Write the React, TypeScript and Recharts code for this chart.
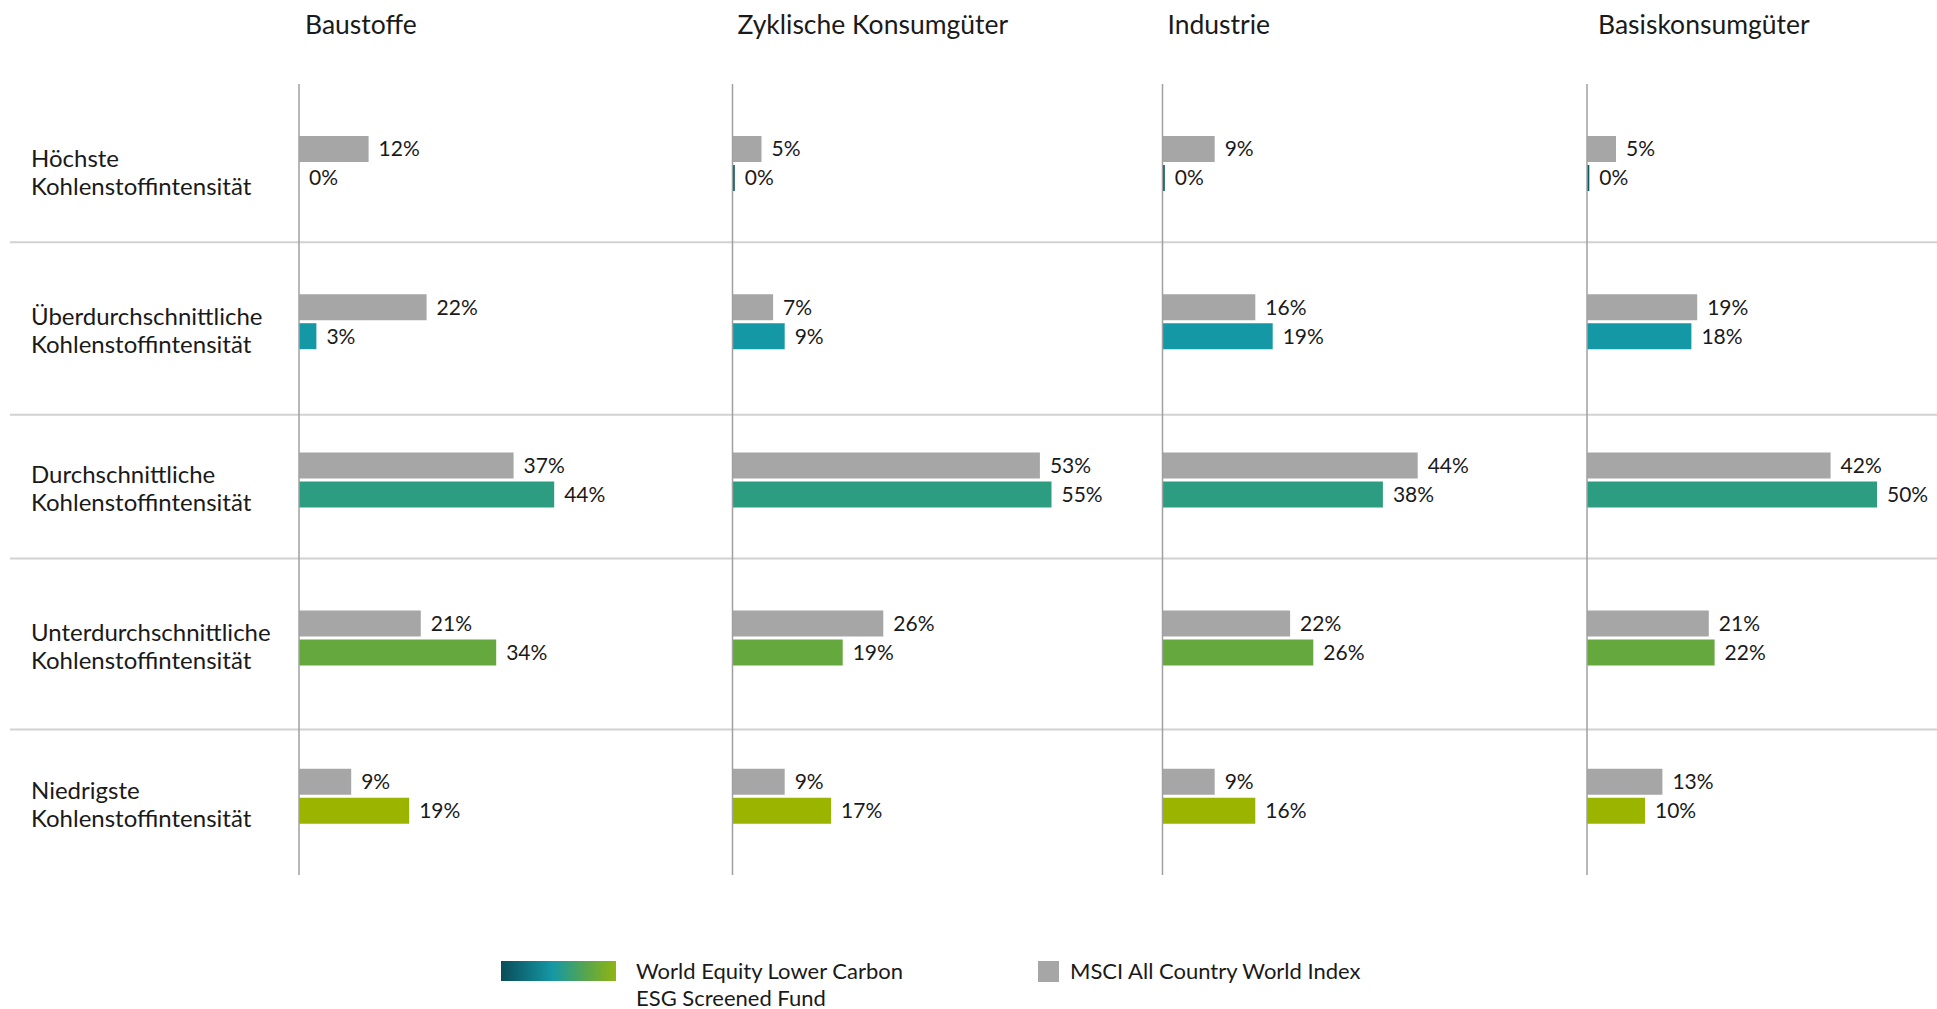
import React from 'react';
import { BarChart, Bar, XAxis, YAxis, ReferenceLine, LabelList, Cell, CartesianGrid } from 'recharts';

// ---------- data ----------
const rowLabels = [
  'Höchste Kohlenstoffintensität',
  'Überdurchschnittliche Kohlenstoffintensität',
  'Durchschnittliche Kohlenstoffintensität',
  'Unterdurchschnittliche Kohlenstoffintensität',
  'Niedrigste Kohlenstoffintensität',
];
const sectors = ['Baustoffe', 'Zyklische Konsumgüter', 'Industrie', 'Basiskonsumgüter'];

const msciBaustoffe = [12, 22, 37, 21, 9];
const msciZyklisch = [5, 7, 53, 26, 9];
const msciIndustrie = [9, 16, 44, 22, 9];
const msciBasis = [5, 19, 42, 21, 13];

const fundBaustoffe = [0.01, 3, 44, 34, 19];
const fundZyklisch = [0.4, 9, 55, 19, 17];
const fundIndustrie = [0.4, 19, 38, 26, 16];
const fundBasis = [0.4, 18, 50, 22, 10];

const legendFundLines = ['World Equity Lower Carbon', 'ESG Screened Fund'];
const legendMsci = 'MSCI All Country World Index';

const msciSeries = [msciBaustoffe, msciZyklisch, msciIndustrie, msciBasis];
const fundSeries = [fundBaustoffe, fundZyklisch, fundIndustrie, fundBasis];

const data = rowLabels.map((row, i) => {
  const o: Record<string, any> = { row };
  sectors.forEach((_, p) => {
    o[`msci${p}`] = msciSeries[p][i];
    o[`fund${p}`] = fundSeries[p][i];
  });
  return o;
});

// ---------- layout & style ----------
const W = 1937;
const H = 1009;
const PLOT_LEFT = 10;
const PLOT_TOP = 84;
const PLOT_BOTTOM = 875;
const PX_PER_PCT = 5.8;
const panelAxisX = [299, 732.5, 1162.5, 1587];
const titleDx = [6, 5, 5, 11];
const separators = [1, 2.09, 3, 4.08]; // in row units from the top
const fundColors = ['#0c5a63', '#1598a5', '#2d9d81', '#65a83d', '#9ab400'];
const MSCI_COLOR = '#a6a6a6';
const TEXT = '#1a1a1a';
const FONT = 'Lato, "Open Sans", sans-serif';
const ROW_LABEL_X = 31;

const fmt = (v: any) => `${Math.round(Number(v))}%`;

export default function App() {
  const children: any[] = [];

  sectors.forEach((_, p) => {
    const a = panelAxisX[p];
    children.push(
      <XAxis
        key={`x${p}`}
        xAxisId={`x${p}`}
        type="number"
        domain={[-(a - PLOT_LEFT) / PX_PER_PCT, (W - a) / PX_PER_PCT]}
        allowDataOverflow
        hide
      />
    );
  });

  sectors.forEach((_, p) => {
    children.push(
      <YAxis key={`y${p}`} yAxisId={`y${p}`} type="category" dataKey="row" hide />
    );
  });

  children.push(
    <CartesianGrid
      key="grid"
      xAxisId="x0"
      yAxisId="y0"
      vertical={false}
      stroke="#d2d2d2"
      strokeWidth={2}
      horizontalCoordinatesGenerator={(args: any) => {
        const top = args?.offset?.top ?? PLOT_TOP;
        const h = args?.offset?.height ?? PLOT_BOTTOM - PLOT_TOP;
        return separators.map((s) => top + (s * h) / rowLabels.length);
      }}
    />
  );

  sectors.forEach((name, p) => {
    children.push(
      <Bar
        key={`msci${p}`}
        xAxisId={`x${p}`}
        yAxisId={`y${p}`}
        dataKey={`msci${p}`}
        name={legendMsci}
        fill={MSCI_COLOR}
        isAnimationActive={false}
      >
        <LabelList dataKey={`msci${p}`} position="right" offset={10} formatter={fmt} fill={TEXT} fontSize={21} fontFamily={FONT} />
      </Bar>
    );
    children.push(
      <Bar
        key={`fund${p}`}
        xAxisId={`x${p}`}
        yAxisId={`y${p}`}
        dataKey={`fund${p}`}
        name={legendFundLines.join(' ')}
        isAnimationActive={false}
      >
        {data.map((_, i) => (
          <Cell key={i} fill={fundColors[i]} />
        ))}
        <LabelList dataKey={`fund${p}`} position="right" offset={10} formatter={fmt} fill={TEXT} fontSize={21} fontFamily={FONT} />
      </Bar>
    );
    children.push(
      <ReferenceLine
        key={`axis${p}`}
        xAxisId={`x${p}`}
        yAxisId={`y${p}`}
        x={0}
        stroke="#a0a0a0"
        strokeWidth={1.5}
        label={(lp: any) => {
          const vb = lp.viewBox || {};
          return (
            <text
              x={(vb.x ?? panelAxisX[p]) + titleDx[p]}
              y={(vb.y ?? PLOT_TOP) - 50}
              fill={TEXT}
              fontSize={26.5}
              fontFamily={FONT}
              textAnchor="start"
            >
              {name}
            </text>
          );
        }}
      />
    );
  });

  const band = (PLOT_BOTTOM - PLOT_TOP) / rowLabels.length;

  return (
    <div style={{ position: 'absolute', left: 0, top: 0, width: W, height: H, background: '#fff', fontFamily: FONT }}>
      <BarChart
        width={W}
        height={H}
        data={data}
        layout="vertical"
        margin={{ top: PLOT_TOP, right: 0, bottom: H - PLOT_BOTTOM, left: PLOT_LEFT }}
        barSize={26}
        barGap={3}
        style={{ fontFamily: FONT }}
      >
        {children}
      </BarChart>
      {/* row labels */}
      <svg width={290} height={H} style={{ position: 'absolute', left: 0, top: 0, pointerEvents: 'none' }}>
        {rowLabels.map((s, i) => {
          const k = s.lastIndexOf(' ');
          const cy = PLOT_TOP + (i + 0.5) * band;
          return (
            <text key={i} fill={TEXT} fontSize={24} fontFamily={FONT}>
              <tspan x={ROW_LABEL_X} y={cy + 3.5}>{s.slice(0, k)}</tspan>
              <tspan x={ROW_LABEL_X} y={cy + 31.5}>{s.slice(k + 1)}</tspan>
            </text>
          );
        })}
      </svg>
      {/* legend */}
      <div style={{ position: 'absolute', left: 501, top: 961, width: 115, height: 20, background: 'linear-gradient(to right, #0a4c58 0%, #1598a5 45%, #5aa64a 75%, #8fb512 100%)' }} />
      <div style={{ position: 'absolute', left: 636, top: 957, fontSize: 22, lineHeight: '27px', color: TEXT }}>
        <div>{legendFundLines[0]}</div>
        <div>{legendFundLines[1]}</div>
      </div>
      <div style={{ position: 'absolute', left: 1038, top: 961, width: 21, height: 21, background: MSCI_COLOR }} />
      <div style={{ position: 'absolute', left: 1070, top: 957, fontSize: 22, lineHeight: '27px', color: TEXT }}>{legendMsci}</div>
    </div>
  );
}
